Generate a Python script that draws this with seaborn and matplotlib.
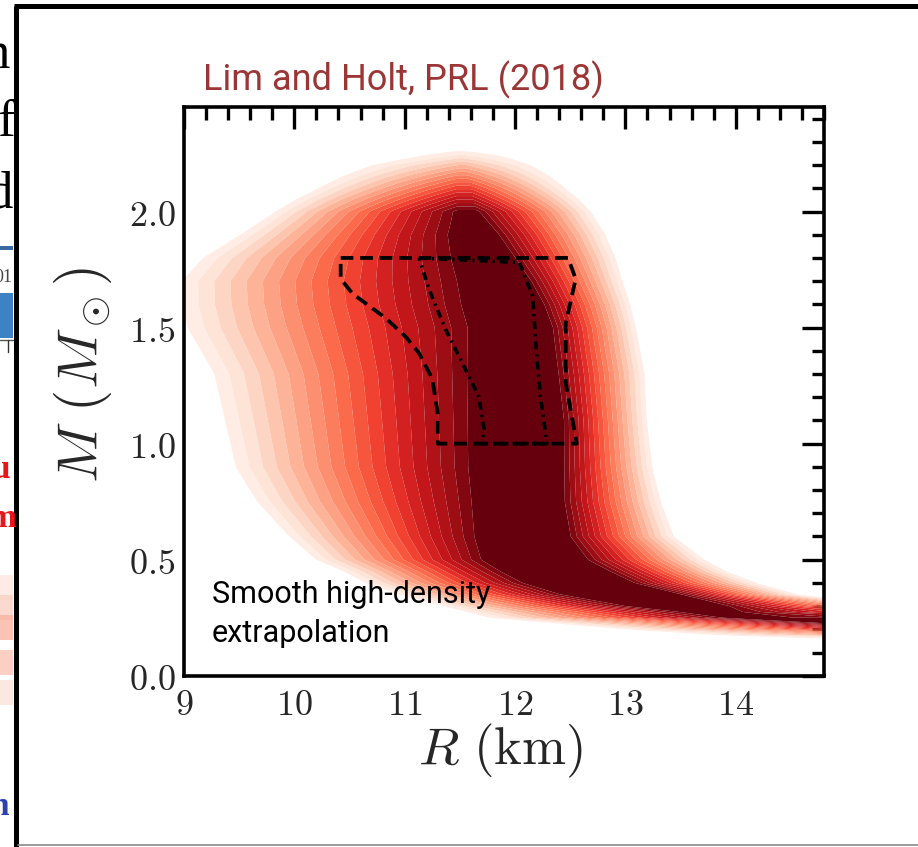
import numpy as np
import pandas as pd
import matplotlib
matplotlib.use("Agg")
import matplotlib.pyplot as plt
import seaborn as sns
from matplotlib.ticker import MultipleLocator, FuncFormatter
from matplotlib.lines import Line2D
from matplotlib.patches import Rectangle

# ---------------- data ----------------
# Mass rows (M_sun) at which the radius distribution was read
row_mass = [0.14, 0.155, 0.175, 0.2, 0.225, 0.25, 0.275, 0.3, 0.35, 0.4, 0.45, 0.5,
            0.6, 0.75, 0.9, 1.1, 1.3, 1.5, 1.6, 1.7, 1.8, 1.9, 2.0, 2.05, 2.1, 2.15,
            2.2, 2.24, 2.27]
# outer (faintest) left edge of the coloured band, km
edge_left = [16.0, 14.8, 13.7, 12.9, 12.3, 11.7, 11.5, 11.3, 10.9, 10.6, 10.4, 10.15,
             9.9, 9.6, 9.4, 9.3, 9.2, 8.95, 8.9, 8.9, 9.1, 9.45, 9.78, 9.95, 10.15, 10.35,
             10.6, 11.0, 11.3]
# left edge of the darkest core, km
core_left = [30.0, 25.0, 18.0, 16.0, 15.0, 14.0, 13.6, 13.1, 12.5, 12.15, 11.95, 11.78,
             11.73, 11.72, 11.7, 11.7, 11.7, 11.72, 11.66, 11.62, 11.55, 11.5, 11.48, 11.47,
             11.47, 11.48, 11.5, 11.5, 11.5]
# right edge of the darkest core, km
core_right = [31.0, 26.0, 30.0, 30.0, 30.0, 14.1, 13.9, 13.85, 13.45, 13.02, 12.8, 12.6,
              12.45, 12.4, 12.4, 12.4, 12.35, 12.3, 12.22, 12.1, 11.95, 11.8, 11.65, 11.62,
              11.6, 11.57, 11.55, 11.52, 11.5]
# outer (faintest) right edge, km
edge_right = [32.0, 27.0, 31.0, 31.0, 31.0, 22.0, 16.9, 15.6, 14.6, 14.22, 13.95, 13.75,
              13.47, 13.35, 13.27, 13.22, 13.2, 13.12, 13.07, 13.0, 12.94, 12.85, 12.72, 12.62,
              12.5, 12.38, 12.22, 12.0, 11.7]
# relative peak probability in each row
row_peak = [1.0] * 22 + [0.97, 0.79, 0.61, 0.43, 0.25, 0.1, 0.0]

# dashed constraint region (R km, M Msun)
box_R = [10.42, 12.48, 12.55, 12.46, 12.46, 12.56, 11.30, 11.30, 11.25, 11.13, 11.01, 10.83, 10.53, 10.42, 10.42]
box_M = [1.80, 1.80, 1.71, 1.52, 1.26, 1.00, 1.00, 1.13, 1.28, 1.39, 1.46, 1.54, 1.645, 1.71, 1.80]
# dash-dotted constraint region
inner_R = [11.13, 12.04, 12.16, 12.19, 12.23, 12.29, 11.70, 11.72, 11.67, 11.52, 11.37, 11.22, 11.13]
inner_M = [1.80, 1.78, 1.637, 1.421, 1.205, 1.0, 1.0, 1.061, 1.205, 1.35, 1.493, 1.666, 1.80]

x_ticks = [9, 10, 11, 12, 13, 14]
y_ticks = [0.0, 0.5, 1.0, 1.5, 2.0]

title_text = "Lim and Holt, PRL (2018)"
note_lines = ["Smooth high-density", "extrapolation"]

# ---------------- style ----------------
sns.set_style("white")
plt.rcParams["mathtext.fontset"] = "cm"
plt.rcParams["font.family"] = ["Roboto", "DejaVu Sans"]

fig = plt.figure(figsize=(9.18, 8.47), dpi=100)
ax = fig.add_axes([0.2004, 0.2022, 0.6972, 0.6714])

# ---------------- density field built from the rows ----------------
R = np.linspace(9.0, 14.8, 700)
M = np.linspace(0.0, 2.45, 900)
RR, MM = np.meshgrid(R, M)
L = np.interp(MM, row_mass, edge_left)
CL = np.interp(MM, row_mass, core_left)
CR = np.interp(MM, row_mass, core_right)
RT = np.interp(MM, row_mass, edge_right)
A = np.interp(MM, row_mass, row_peak)
up = (RR - L) / np.maximum(CL - L, 1e-6)
down = (RT - RR) / np.maximum(RT - CR, 1e-6)
prof = np.clip(np.minimum(np.minimum(up, down), 1.0), 0.0, 1.0)
dens = A * prof

df = pd.DataFrame({"R": RR.ravel(), "M": MM.ravel(), "p": dens.ravel()})
grid = df.pivot(index="M", columns="R", values="p")

nb = 18
levels = np.linspace(0.03, 1.0, nb + 1)
levels[-1] = 1.01
cmap = sns.color_palette("Reds", as_cmap=True)
band_colors = cmap(np.linspace(0.05, 1.0, nb))
ax.contourf(grid.columns.values, grid.index.values, grid.values,
            levels=levels, colors=band_colors, antialiased=True)

# constraint regions
ax.plot(box_R, box_M, color="black", lw=2.7, linestyle=(0, (3.4, 1.8)))
ax.plot(inner_R, inner_M, color="black", lw=2.6, linestyle=(0, (2.2, 1.4, 0.6, 1.4)))

# ---------------- axes ----------------
ax.set_xlim(9.0, 14.8)
ax.set_ylim(0.0, 2.45)
ax.set_xticks(x_ticks)
ax.set_yticks(y_ticks)
ax.xaxis.set_minor_locator(MultipleLocator(0.2))
ax.yaxis.set_minor_locator(MultipleLocator(0.1))
ax.xaxis.set_major_formatter(FuncFormatter(lambda v, p: r"$%d$" % round(v)))
ax.yaxis.set_major_formatter(FuncFormatter(lambda v, p: r"$%.1f$" % v))
ax.tick_params(which="both", direction="in", top=True, right=True, color="black",
               width=2.4, labelsize=26)
ax.tick_params(which="major", length=16)
ax.tick_params(which="minor", length=9)
ax.tick_params(axis="x", which="major", pad=8)
ax.tick_params(axis="y", which="major", pad=6)
for s in ax.spines.values():
    s.set_linewidth(2.6)
    s.set_color("black")

ax.set_xlabel(r"$R\ (\mathrm{km})$", fontsize=38)
ax.set_ylabel(r"$M\ (M_\odot)$", fontsize=41)
ax.xaxis.set_label_coords(0.495, -0.081)
ax.yaxis.set_label_coords(-0.110, 0.53)

ax.text(9.253, 0.314, note_lines[0], fontsize=22, color="black", va="baseline", ha="left")
ax.text(9.253, 0.145, note_lines[1], fontsize=22, color="black", va="baseline", ha="left")

fig.text(203 / 918, 1 - 90 / 847, title_text, fontsize=26, color="#9c3636",
         va="baseline", ha="left")

# ---------------- slide frame and clipped neighbour fragments ----------------
W, H = 918.0, 847.0
def fx(x): return x / W
def fy(y): return 1 - y / H

fig.add_artist(Line2D([fx(15.5), fx(15.5)], [0, fy(5.8)], transform=fig.transFigure,
                      color="black", lw=3.6, solid_capstyle="butt"))
fig.add_artist(Line2D([fx(13.5), 1.0], [fy(5.8), fy(5.8)], transform=fig.transFigure,
                      color="black", lw=3.6, solid_capstyle="butt"))
fig.add_artist(Line2D([fx(18), 1.0], [fy(845), fy(845)], transform=fig.transFigure,
                      color="#8a8a8a", lw=1.2))

frag_font = ["Liberation Serif", "DejaVu Serif"]
fig.text(fx(-16), fy(68), "n", fontsize=38, family=frag_font, color="black", va="baseline")
fig.text(fx(-3), fy(136), "f", fontsize=38, family=frag_font, color="black", va="baseline")
fig.text(fx(-14), fy(207), "d", fontsize=38, family=frag_font, color="black", va="baseline")
fig.add_artist(Rectangle((0, fy(250)), fx(13), 4 / H, transform=fig.transFigure,
                         color="#3a6aa0", lw=0))
fig.text(fx(-6), fy(282), "01", fontsize=13, family=frag_font, color="#444444", va="baseline")
fig.add_artist(Rectangle((0, fy(338)), fx(13), 45 / H, transform=fig.transFigure,
                         color="#3d82c2", lw=0))
fig.add_artist(Line2D([0, fx(13)], [fy(340), fy(340)], transform=fig.transFigure,
                      color="#555555", lw=1))
fig.add_artist(Line2D([fx(8), fx(8)], [fy(340), fy(352)], transform=fig.transFigure,
                      color="#333333", lw=1))
fig.text(fx(-8), fy(478), "u", fontsize=24, family=frag_font, weight="bold",
         color="#e8151b", va="baseline")
fig.text(fx(-12), fy(527), "m", fontsize=24, family=frag_font, weight="bold",
         color="#e8151b", va="baseline")
for c, y0 in [("#fde8e0", 575), ("#fcd0c2", 595), ("#f9b4a0", 615),
              ("#fac4b4", 650), ("#fde3da", 680)]:
    fig.add_artist(Rectangle((0, fy(y0 + 25)), fx(13), 25 / H, transform=fig.transFigure,
                             color=c, lw=0, alpha=0.8))
fig.text(fx(-10), fy(815), "n", fontsize=24, family=frag_font, weight="bold",
         color="#2a3fb0", va="baseline")

fig.savefig("out.png", dpi=100)
